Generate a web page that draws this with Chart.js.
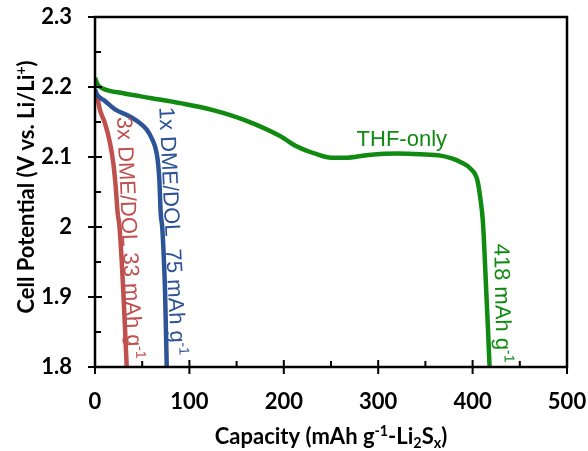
<!DOCTYPE html>
<html>
<head>
<meta charset="utf-8">
<script src="https://cdn.jsdelivr.net/npm/chart.js@4.4.0/dist/chart.umd.min.js"></script>
<style>
  body { margin: 0; background: #fff; }
  canvas { display: block; }
</style>
</head>
<body>
<canvas id="grafico" width="588" height="451"></canvas>
<script>
// ---- datos ----
const xTicks = [0, 100, 200, 300, 400, 500];
const yTicks = [1.8, 1.9, 2.0, 2.1, 2.2, 2.3];
const yTickLabels = ['1.8', '1.9', '2', '2.1', '2.2', '2.3'];

// THF-only
const thfCap = [0, 3, 8, 30, 60, 90, 125, 160, 196, 214, 235, 250, 265, 290, 320, 345, 366, 378, 387, 398, 405, 408, 411, 413.6, 416, 418];
const thfV   = [2.213, 2.203, 2.198, 2.191, 2.184, 2.177, 2.167, 2.152, 2.130, 2.115, 2.104, 2.099, 2.099, 2.103, 2.105, 2.104, 2.102, 2.098, 2.093, 2.083, 2.067, 2.043, 2.006, 1.934, 1.863, 1.80];

// 1x DME/DOL
const dme1Cap = [0, 1.8, 10.6, 21.2, 35.3, 46, 54.8, 60, 63.6, 66.4, 68.2, 69.6, 71.3, 74.2, 76];
const dme1V   = [2.197, 2.19, 2.180, 2.168, 2.159, 2.150, 2.139, 2.127, 2.115, 2.096, 2.067, 2.020, 1.998, 1.908, 1.80];

// 3x DME/DOL
const dme3Cap = [0, 1.8, 5.3, 10.6, 15.9, 19.4, 21.9, 24, 26, 30, 33.6];
const dme3V   = [2.192, 2.189, 2.167, 2.148, 2.12, 2.091, 2.058, 2.02, 2.0, 1.908, 1.80];

const xTitle = [['Capacity (mAh g', 0], ['-1', 1], ['-Li', 0], ['2', -1], ['S', 0], ['x', -1], [')', 0]];
const yTitle = [['Cell Potential (V vs. Li/Li', 0], ['+', 1], [')', 0]];

const VERDE = '#118a11';
const AZUL = '#2d5496';
const ROJO = '#bf504d';

// etiquetas: posicion en unidades de datos (x, y), angulo en grados
const etiquetas = [
  { partes: [['THF-only', 0]], x: 325, y: 2.116, ang: 0, color: VERDE, centro: true },
  { partes: [['1x DME/DOL  75 mAh g', 0], ['-1', 1]], x: 68, y: 2.171, ang: 87.2, color: AZUL },
  { partes: [['3x DME/DOL 33 mAh g', 0], ['-1', 1]], x: 23.3, y: 2.157, ang: 87.4, color: ROJO },
  { partes: [['418 mAh g', 0], ['-1', 1]], x: 423, y: 1.976, ang: 89, color: VERDE }
];

function aPuntos(xs, ys) {
  return xs.map((v, i) => ({ x: v, y: ys[i] }));
}

// texto con super y subindices
function anchoRico(ctx, partes, fam, size, peso) {
  let w = 0;
  partes.forEach(p => {
    const s = p[1] === 0 ? size : size * 0.65;
    ctx.font = peso + ' ' + s + 'px ' + fam;
    w += ctx.measureText(p[0]).width;
  });
  return w;
}
function textoRico(ctx, partes, x0, fam, size, peso) {
  let x = x0;
  partes.forEach(p => {
    const s = p[1] === 0 ? size : size * 0.65;
    ctx.font = peso + ' ' + s + 'px ' + fam;
    let dy = 0;
    if (p[1] === 1) dy = -size * 0.38;
    if (p[1] === -1) dy = size * 0.2;
    ctx.fillText(p[0], x, dy);
    x += ctx.measureText(p[0]).width;
  });
}

const decoracion = {
  id: 'decoracion',
  afterDraw(chart) {
    const ctx = chart.ctx;
    const a = chart.chartArea;
    const sx = chart.scales.x, sy = chart.scales.y;
    ctx.save();
    ctx.strokeStyle = '#000';
    ctx.lineWidth = 2.5;
    ctx.strokeRect(a.left, a.top, a.right - a.left, a.bottom - a.top);

    ctx.lineWidth = 2;
    ctx.beginPath();
    xTicks.forEach((v, i) => {
      const px = sx.getPixelForValue(v);
      ctx.moveTo(px, a.bottom - 7); ctx.lineTo(px, a.bottom + 7);
      if (i < xTicks.length - 1) {
        const pm = sx.getPixelForValue((v + xTicks[i + 1]) / 2);
        ctx.moveTo(pm, a.bottom - 6); ctx.lineTo(pm, a.bottom);
      }
    });
    yTicks.forEach((v, i) => {
      const py = sy.getPixelForValue(v);
      ctx.moveTo(a.left - 7, py); ctx.lineTo(a.left + 7, py);
      if (i < yTicks.length - 1) {
        const pm = sy.getPixelForValue((v + yTicks[i + 1]) / 2);
        ctx.moveTo(a.left, pm); ctx.lineTo(a.left + 6, pm);
      }
    });
    ctx.stroke();

    // titulos de ejes
    ctx.fillStyle = '#000';
    ctx.textBaseline = 'alphabetic';
    ctx.textAlign = 'left';
    const famT = 'Lato, sans-serif';
    let w = anchoRico(ctx, xTitle, famT, 22, 'bold');
    ctx.save();
    ctx.translate((a.left + a.right) / 2 - w / 2, 444);
    textoRico(ctx, xTitle, 0, famT, 22, 'bold');
    ctx.restore();

    w = anchoRico(ctx, yTitle, famT, 22, 'bold');
    ctx.save();
    ctx.translate(34, 187 + w / 2);
    ctx.rotate(-Math.PI / 2);
    textoRico(ctx, yTitle, 0, famT, 22, 'bold');
    ctx.restore();

    // anotaciones
    const famA = '"Liberation Sans", Arial, sans-serif';
    etiquetas.forEach(e => {
      ctx.fillStyle = e.color;
      const px = sx.getPixelForValue(e.x), py = sy.getPixelForValue(e.y);
      const ww = anchoRico(ctx, e.partes, famA, 22, 'normal');
      ctx.save();
      ctx.translate(px, py);
      ctx.rotate(e.ang * Math.PI / 180);
      textoRico(ctx, e.partes, e.centro ? -ww / 2 : 0, famA, 22, 'normal');
      ctx.restore();
    });
    ctx.restore();
  }
};

const fuenteTicks = { family: 'Lato, sans-serif', size: 22, weight: 'bold' };

new Chart(document.getElementById('grafico'), {
  type: 'scatter',
  data: {
    datasets: [
      { label: 'THF-only', data: aPuntos(thfCap, thfV), borderColor: VERDE },
      { label: '1x DME/DOL', data: aPuntos(dme1Cap, dme1V), borderColor: AZUL },
      { label: '3x DME/DOL', data: aPuntos(dme3Cap, dme3V), borderColor: ROJO }
    ].map(d => Object.assign(d, {
      showLine: true, pointRadius: 0, borderWidth: 4.5,
      cubicInterpolationMode: 'monotone', fill: false
    }))
  },
  options: {
    responsive: false,
    animation: false,
    layout: { autoPadding: false, padding: { top: 17, right: 21, left: 0, bottom: 0 } },
    plugins: { legend: { display: false }, tooltip: { enabled: false }, title: { display: false } },
    scales: {
      x: {
        type: 'linear', min: 0, max: 500,
        afterBuildTicks: s => { s.ticks = xTicks.map(v => ({ value: v })); },
        afterFit: s => { s.height = 84; s.paddingLeft = 0; s.paddingRight = 0; },
        ticks: { font: fuenteTicks, color: '#000', padding: 22, maxRotation: 0 },
        grid: { display: false, drawTicks: false },
        border: { display: false }
      },
      y: {
        type: 'linear', min: 1.8, max: 2.3,
        afterBuildTicks: s => { s.ticks = yTicks.map(v => ({ value: v })); },
        afterFit: s => { s.width = 95; s.paddingTop = 0; s.paddingBottom = 0; },
        ticks: { font: fuenteTicks, color: '#000', padding: 23, callback: (v, i) => yTickLabels[i] },
        grid: { display: false, drawTicks: false },
        border: { display: false }
      }
    }
  },
  plugins: [decoracion]
});
</script>
</body>
</html>
